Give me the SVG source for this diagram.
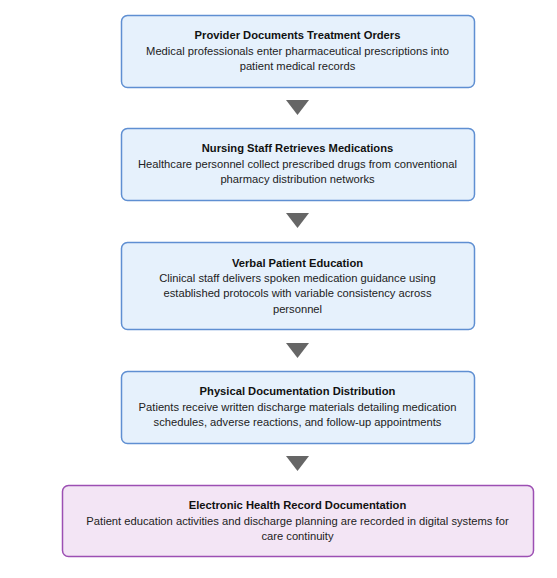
<svg xmlns="http://www.w3.org/2000/svg" width="557" height="578" viewBox="0 0 557 578">
<style>
.box{fill:#e6f1fc;stroke:#5f8fd2;stroke-width:1.5}
.box2{fill:#f3e5f5;stroke:#9c4fb3;stroke-width:1.5}
.t{font-family:"Liberation Sans",Arial,sans-serif;font-size:11.2px;font-weight:bold;fill:#111;text-anchor:middle}
.d{font-family:"Liberation Sans",Arial,sans-serif;font-size:11.2px;fill:#222;text-anchor:middle}
.arr{fill:#666}
</style>
<rect width="557" height="578" fill="#fff"/>
<g id="connectors">
<polygon class="arr" points="286,100 309,100 297.5,115"/>
<polygon class="arr" points="286,213 309,213 297.5,228"/>
<polygon class="arr" points="286,343 309,343 297.5,358"/>
<polygon class="arr" points="286,456 309,456 297.5,471"/>
</g>
<g id="n1">
<rect class="box" x="121.5" y="15.5" width="353" height="72" rx="6"/>
<text class="t" x="297.5" y="39">Provider Documents Treatment Orders</text>
<text class="d" x="297.5" y="54.5">Medical professionals enter pharmaceutical prescriptions into</text>
<text class="d" x="297.5" y="70">patient medical records</text>
</g>
<g id="n2">
<rect class="box" x="121.5" y="128.5" width="353" height="72" rx="6"/>
<text class="t" x="297.5" y="152">Nursing Staff Retrieves Medications</text>
<text class="d" x="297.5" y="167.5">Healthcare personnel collect prescribed drugs from conventional</text>
<text class="d" x="297.5" y="183">pharmacy distribution networks</text>
</g>
<g id="n3">
<rect class="box" x="121.5" y="242.5" width="353" height="87" rx="6"/>
<text class="t" x="297.5" y="266.5">Verbal Patient Education</text>
<text class="d" x="297.5" y="282">Clinical staff delivers spoken medication guidance using</text>
<text class="d" x="297.5" y="297">established protocols with variable consistency across</text>
<text class="d" x="297.5" y="312.5">personnel</text>
</g>
<g id="n4">
<rect class="box" x="121.5" y="371.5" width="353" height="72" rx="6"/>
<text class="t" x="297.5" y="395">Physical Documentation Distribution</text>
<text class="d" x="297.5" y="410.5">Patients receive written discharge materials detailing medication</text>
<text class="d" x="297.5" y="426">schedules, adverse reactions, and follow-up appointments</text>
</g>
<g id="n5">
<rect class="box2" x="62.5" y="485.5" width="471" height="71" rx="6"/>
<text class="t" x="297.5" y="509">Electronic Health Record Documentation</text>
<text class="d" x="297.5" y="524.5">Patient education activities and discharge planning are recorded in digital systems for</text>
<text class="d" x="297.5" y="540">care continuity</text>
</g>
</svg>
